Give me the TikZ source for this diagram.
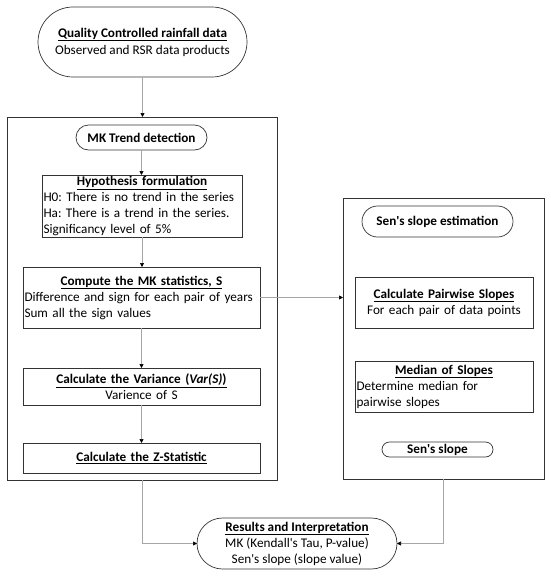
\documentclass[tikz,border=0pt]{standalone}
\usepackage{fontspec}
\setmainfont{Carlito}
\usetikzlibrary{shapes.misc,arrows.meta}
\frenchspacing
\newcommand{\ttl}[1]{\textbf{\underline{#1}}}
\newcommand{\ctl}[1]{\makebox[\linewidth]{\ttl{#1}}}
\newcommand{\apos}{\textquotesingle}
\begin{document}
\begin{tikzpicture}[x=1pt,y=-1pt,
 every node/.style={font=\fontsize{13.2}{16}\selectfont, inner sep=0pt, outer sep=0pt},
 box/.style={draw=black!80, line width=0.7pt, rectangle, inner xsep=1.5pt},
 pill/.style={draw=black!80, line width=0.7pt, rounded rectangle, rounded rectangle arc length=180, align=center},
 conn/.style={draw=black!35, line width=0.7pt, -{Triangle[length=4pt,width=4pt,black]}},
]
\useasboundingbox (0,0) rectangle (550,576);
% outer frames
\node[box, minimum width=270, minimum height=363] (bigL) at (142,298.5) {};
\node[box, minimum width=201, minimum height=281] (bigR) at (443.5,338.5) {};
% top
\node[pill, minimum width=209, minimum height=70] (q) at (142.5,42)
  {\ttl{Quality Controlled rainfall data}\\[1pt]Observed and RSR data products};
% left column
\node[pill, minimum width=131, minimum height=25] (mk) at (141.5,137.5) {\textbf{MK Trend detection}};
\node[box, text width=197, minimum height=62, align=left] (hyp) at (142,206)
  {\ctl{Hypothesis formulation}\\H0: There is no trend in the series\\Ha: There is a trend in the series.\\Significancy level of 5\%};
\node[box, text width=234, minimum height=61, align=left] (comp) at (141.5,297.5)
  {\ctl{Compute the MK statistics, S}\\Difference and sign for each pair of years\\Sum all the sign values};
\node[box, text width=234, minimum height=37, align=center] (var) at (141.5,386.5)
  {\ttl{Calculate the Variance (\textit{Var(S)})}\\Varience of S};
\node[box, text width=234, minimum height=30, align=center] (z) at (141.5,458)
  {\ttl{Calculate the Z-Statistic}};
% right column
\node[pill, minimum width=151, minimum height=31] (sen) at (437.5,221.5) {\textbf{Sen\apos s slope estimation}};
\node[box, text width=175, minimum height=51, align=center] (pw) at (444,302.5)
  {\ttl{Calculate Pairwise Slopes}\\For each pair of data points};
\node[box, text width=175, minimum height=51, align=left] (med) at (444,386.5)
  {\ctl{Median of Slopes}\\Determine median for\\pairwise slopes};
\node[pill, minimum width=111, minimum height=15] (ss) at (437.5,449.5) {\textbf{Sen\apos s slope}};
% bottom
\node[pill, minimum width=200, minimum height=51] (res) at (297,543.5)
  {\ttl{Results and Interpretation}\\MK (Kendall\apos s Tau, P-value)\\Sen\apos s slope (slope value)};
% connectors
\draw[conn] (q.south) -- (q.south |- bigL.north);
\draw[conn] (mk.south) -- (mk.south |- hyp.north);
\draw[conn] (hyp.south) -- (hyp.south |- comp.north);
\draw[conn] (comp.south) -- (comp.south |- var.north);
\draw[conn] (var.south) -- (var.south |- z.north);
\draw[conn] (comp.east) -- (comp.east -| bigR.west);
\draw[conn] (bigL.south) |- (res.west);
\draw[conn] (bigR.south) |- (res.east);
\end{tikzpicture}
\end{document}
